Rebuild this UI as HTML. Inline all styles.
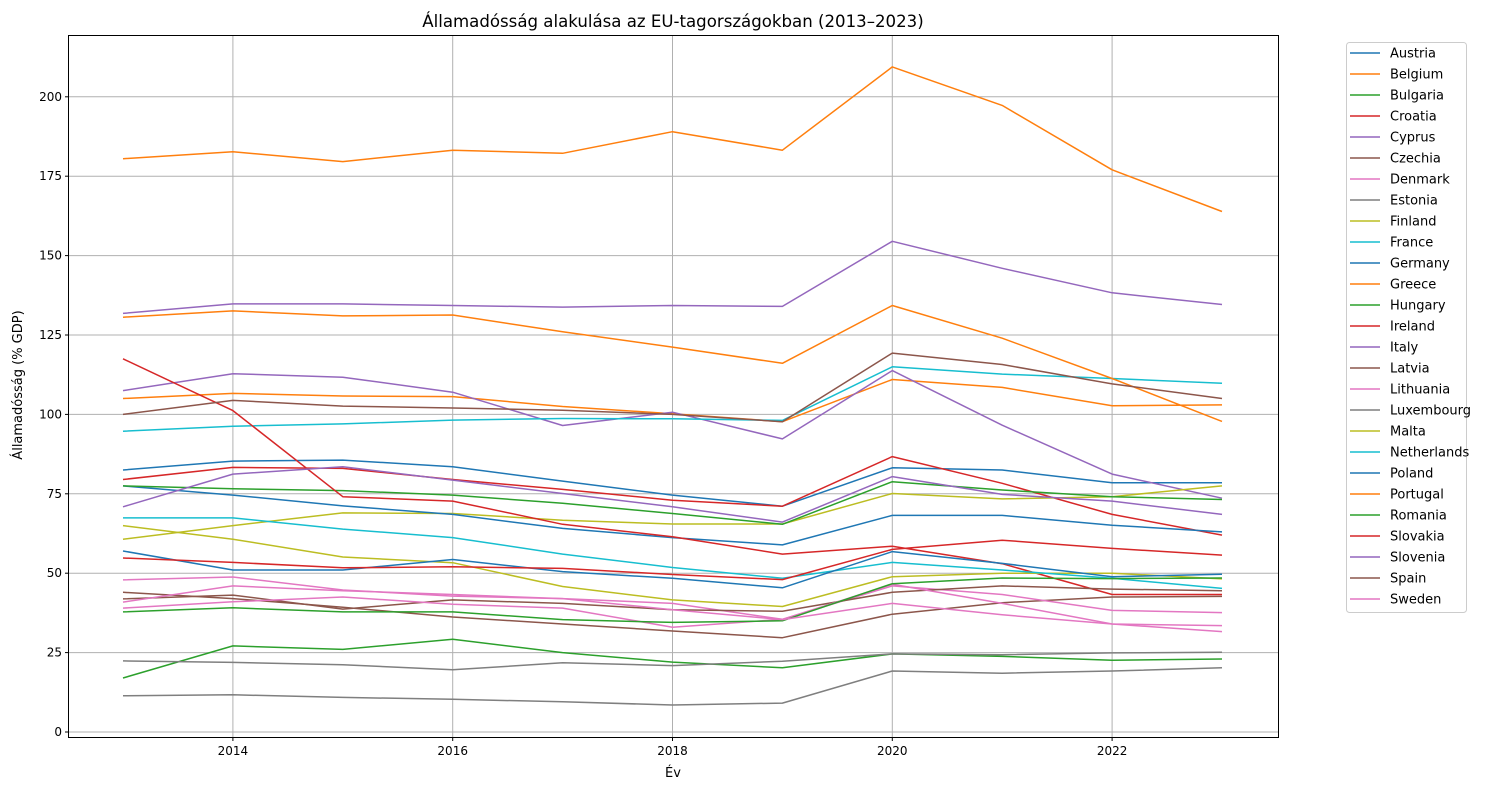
<!DOCTYPE html>
<html><head><meta charset="utf-8"><style>
body{margin:0;background:#fff;}
svg{display:block;font-family:"DejaVu Sans","Liberation Sans",sans-serif;}
</style></head><body>
<svg id="chart" width="1492" height="790" viewBox="0 0 1492 790" xmlns="http://www.w3.org/2000/svg">
<rect width="1492" height="790" fill="#fff"/>
<text x="673" y="27" font-size="16.6" text-anchor="middle">Államadósság alakulása az EU-tagországokban (2013–2023)</text>
<text x="0" y="0" font-size="13" text-anchor="middle" transform="translate(22,385) rotate(-90)">Államadósság (% GDP)</text>
<text x="673" y="777" font-size="13" text-anchor="middle">Év</text>
<g id="grid"></g><g id="lines"></g><g id="ticks"></g>
<rect x="68.5" y="35.5" width="1210" height="702" fill="none" stroke="#000" stroke-width="1"/>
<g id="legend"></g>
</svg>
<script>
const years=[2013,2014,2015,2016,2017,2018,2019,2020,2021,2022,2023];
const countries=["Austria","Belgium","Bulgaria","Croatia","Cyprus","Czechia","Denmark","Estonia","Finland","France","Germany","Greece","Hungary","Ireland","Italy","Latvia","Lithuania","Luxembourg","Malta","Netherlands","Poland","Portugal","Romania","Slovakia","Slovenia","Spain","Sweden"];
const austria=[82.5,85.3,85.6,83.5,79,74.6,71.1,83.2,82.5,78.5,78.5];
const belgium=[105,106.6,105.8,105.6,102.5,100.2,97.7,111,108.5,102.7,103];
const bulgaria=[17,27.1,26,29.2,25,22,20.2,24.6,23.8,22.6,23];
const croatia=[79.5,83.3,83,79.5,76.4,73,71.1,86.7,78.3,68.5,62];
const cyprus=[107.5,112.8,111.7,107,96.5,100.7,92.3,113.8,96.6,81.2,73.6];
const czechia=[44,42,39.3,36.2,34,31.8,29.7,37.1,40.7,42.5,42.7];
const denmark=[47.9,48.8,44.7,42.8,42,40.5,35.5,46,43.3,38.3,37.6];
const estonia=[11.4,11.7,10.9,10.3,9.5,8.5,9.1,19.2,18.5,19.2,20.2];
const finland=[60.7,65,69,68.8,66.7,65.5,65.5,75.1,73.4,74.1,77.5];
const france=[94.7,96.3,97,98.2,98.7,98.6,98.1,115,112.7,111.3,109.8];
const germany=[77.5,74.6,71.2,68.5,64.1,61.2,58.9,68.2,68.2,65.1,63];
const greece=[180.5,182.7,179.6,183.2,182.2,189,183.2,209.4,197.3,177,163.9];
const hungary=[77.5,76.6,76,74.6,72,68.8,65.4,78.8,76.2,74.1,73.2];
const ireland=[117.5,101.2,74.1,72.7,65.4,61.5,56,58.5,53,43.3,43.3];
const italy=[131.8,134.8,134.8,134.3,133.8,134.3,134,154.5,146,138.3,134.6];
const latvia=[41.9,43.1,38.7,41.6,40.5,38.5,38,44,46,45,44.5];
const lithuania=[39,41,42.5,40.2,39,33,35.5,46.5,40.5,34,31.6];
const luxembourg=[22.4,21.9,21.2,19.6,21.8,20.9,22.3,24.6,24.3,24.9,25.1];
const malta=[65,60.7,55.1,53.3,45.8,41.6,39.5,48.9,50,50,48.2];
const netherlands=[67.4,67.4,63.9,61.2,56,51.8,48.4,53.4,51,48.4,45.2];
const poland=[57,51,51,54.3,50.5,48.4,45.4,56.8,53.1,48.9,49.7];
const portugal=[130.6,132.6,131,131.3,126,121.2,116.1,134.3,124,111.3,97.8];
const romania=[37.8,39.1,37.8,37.8,35.4,34.5,35,46.7,48.5,48.3,48.5];
const slovakia=[54.8,53.4,51.7,52,51.5,49.6,48,57.5,60.4,57.8,55.7];
const slovenia=[70.9,81.2,83.5,79.3,75.1,70.9,66.1,80.4,74.8,72.7,68.5];
const spain=[100,104.4,102.6,102,101.3,100,97.7,119.3,115.7,109.6,105];
const sweden=[40.9,46,44.5,43.3,42,38.5,35.4,40.5,36.9,34,33.5];
const series=[austria,belgium,bulgaria,croatia,cyprus,czechia,denmark,estonia,finland,france,germany,greece,hungary,ireland,italy,latvia,lithuania,luxembourg,malta,netherlands,poland,portugal,romania,slovakia,slovenia,spain,sweden];
const xTicks=[2014,2016,2018,2020,2022];
const yTicks=[0,25,50,75,100,125,150,175,200];
const palette=["#1f77b4","#ff7f0e","#2ca02c","#d62728","#9467bd","#8c564b","#e377c2","#7f7f7f","#bcbd22","#17becf"];
const NS="http://www.w3.org/2000/svg";
const xs=y=>123+(y-2013)*109.9;
const ys=v=>732-v*3.176;
function mk(tag,attrs,parent){const e=document.createElementNS(NS,tag);for(const k in attrs)e.setAttribute(k,attrs[k]);parent.appendChild(e);return e;}
const grid=document.getElementById('grid'),ticks=document.getElementById('ticks'),lines=document.getElementById('lines'),legend=document.getElementById('legend');
xTicks.forEach(t=>{const x=xs(t);
 const g=mk('line',{x1:x,x2:x,y1:35.5,y2:737.5,stroke:'#b0b0b0','stroke-width':1},grid);
 
 
 mk('line',{x1:x,x2:x,y1:737.5,y2:741,stroke:'#000'},ticks);
 const tx=mk('text',{x:x,y:755,'font-size':12,'text-anchor':'middle'},ticks);tx.textContent=t;
 
 
});
yTicks.forEach(t=>{const y=ys(t);
 const g=mk('line',{x1:68.5,x2:1278.5,y1:y,y2:y,stroke:'#b0b0b0','stroke-width':1},grid);
 
 
 mk('line',{x1:65,x2:68.5,y1:y,y2:y,stroke:'#000'},ticks);
 const tx=mk('text',{x:62,y:y+4,'font-size':12,'text-anchor':'end'},ticks);tx.textContent=t;
 
 
});
series.forEach((s,i)=>{
 const pts=s.map((v,j)=>xs(years[j]).toFixed(1)+','+ys(v).toFixed(1)).join(' ');
 const p=mk('polyline',{points:pts,fill:'none',stroke:palette[i%10],'stroke-width':1.5,'stroke-linejoin':'round'},lines);
 
 
});
const box=mk('rect',{x:1346.5,y:42.5,width:120,height:570,fill:'#fff',stroke:'#ccc',rx:3},legend);


countries.forEach((c,i)=>{const y=53+i*21;
 const l=mk('line',{x1:1350,x2:1380,y1:y,y2:y,stroke:palette[i%10],'stroke-width':1.5},legend);
 
 
 const t=mk('text',{x:1390,y:y+4.5,'font-size':13},legend);t.textContent=c;
 
 
});
</script>
</body></html>
